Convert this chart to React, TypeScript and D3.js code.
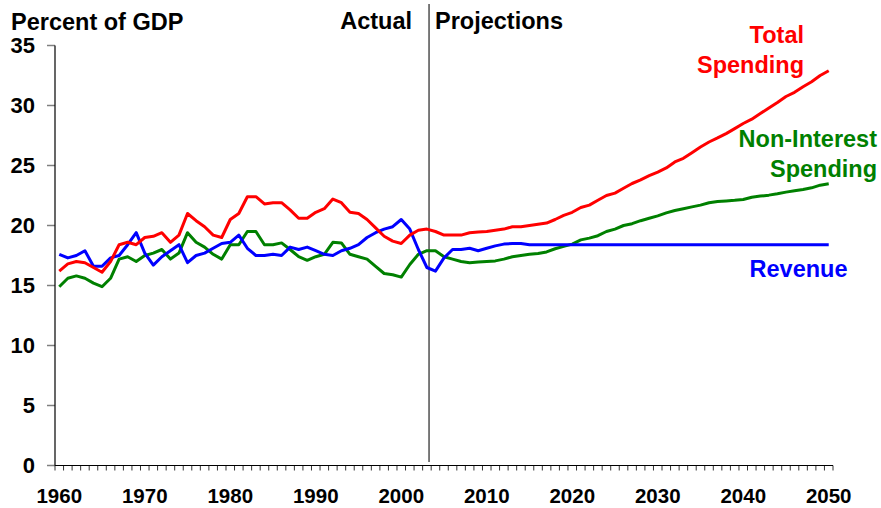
import React from "react";
import * as d3 from "d3";

const years: number[] = d3.range(1960, 2051);

const totalSpending: number[] = [
  16.2, 16.8, 17.0, 16.9, 16.5, 16.1, 17.0, 18.4, 18.6, 18.4,
  19.0, 19.1, 19.4, 18.6, 19.2, 21.0, 20.4, 19.9, 19.2, 19.0,
  20.5, 21.0, 22.4, 22.4, 21.8, 21.9, 21.9, 21.3, 20.6, 20.6,
  21.1, 21.4, 22.2, 21.9, 21.1, 21.0, 20.5, 19.8, 19.1, 18.7,
  18.5, 19.2, 19.6, 19.7, 19.5, 19.2, 19.2, 19.2, 19.4, 19.45,
  19.5, 19.6, 19.7, 19.9, 19.9, 20.0, 20.1, 20.2, 20.5, 20.85,
  21.1, 21.5, 21.7, 22.1, 22.5, 22.7, 23.1, 23.5, 23.8, 24.15,
  24.45, 24.8, 25.3, 25.6, 26.07, 26.54, 26.96, 27.3, 27.66, 28.07,
  28.5, 28.86, 29.33, 29.8, 30.25, 30.75, 31.1, 31.56, 31.98, 32.5,
  32.9,
];

const nonInterestSpending: number[] = [
  14.9, 15.6, 15.8, 15.6, 15.2, 14.9, 15.6, 17.2, 17.4, 17.0,
  17.5, 17.7, 18.0, 17.2, 17.7, 19.4, 18.6, 18.2, 17.6, 17.2,
  18.4, 18.4, 19.5, 19.5, 18.4, 18.4, 18.55, 18.0, 17.4, 17.1,
  17.4, 17.6, 18.6, 18.55, 17.6, 17.4, 17.2, 16.6, 16.0, 15.9,
  15.7, 16.75, 17.6, 17.9, 17.9, 17.4, 17.2, 17.0, 16.9, 16.95,
  17.0, 17.05, 17.2, 17.4, 17.5, 17.6, 17.67, 17.8, 18.06, 18.26,
  18.45, 18.8, 18.95, 19.15, 19.5, 19.7, 20.0, 20.15, 20.4, 20.6,
  20.8, 21.05, 21.25, 21.4, 21.55, 21.7, 21.9, 22.0, 22.05, 22.1,
  22.17, 22.36, 22.45, 22.53, 22.64, 22.78, 22.89, 23.0, 23.14, 23.36,
  23.48,
];

const revenue: number[] = [
  17.6, 17.3, 17.5, 17.9, 16.6, 16.6, 17.3, 17.5, 18.4, 19.4,
  17.7, 16.7, 17.4, 17.9, 18.4, 16.9, 17.5, 17.7, 18.1, 18.5,
  18.6, 19.2, 18.1, 17.5, 17.5, 17.6, 17.5, 18.2, 18.0, 18.2,
  17.9, 17.6, 17.5, 17.9, 18.1, 18.4, 19.0, 19.4, 19.7, 19.9,
  20.5, 19.7, 18.0, 16.5, 16.2, 17.3, 18.0, 18.0, 18.1, 17.9,
  18.1, 18.3, 18.45, 18.5, 18.5, 18.4, 18.4, 18.4, 18.4, 18.4,
  18.4, 18.4, 18.4, 18.4, 18.4, 18.4, 18.4, 18.4, 18.4, 18.4,
  18.4, 18.4, 18.4, 18.4, 18.4, 18.4, 18.4, 18.4, 18.4, 18.4,
  18.4, 18.4, 18.4, 18.4, 18.4, 18.4, 18.4, 18.4, 18.4, 18.4,
  18.4,
];

const yTicks: number[] = [0, 5, 10, 15, 20, 25, 30, 35];
const xLabels: number[] = [1960, 1970, 1980, 1990, 2000, 2010, 2020, 2030, 2040, 2050];
const dividerYear = 2003.25;

const FONT = "'Liberation Sans', Arial, Helvetica, sans-serif";

export default function App() {
  const x = d3.scaleLinear().domain([1959.5, 2050.5]).range([55, 833]);
  const y = d3.scaleLinear().domain([0, 35]).range([465.5, 45.5]);

  const line = d3
    .line<number>()
    .x((_, i) => x(years[i]))
    .y((d) => y(d));

  const series = [
    { values: nonInterestSpending, color: "#008000" },
    { values: revenue, color: "#0000FF" },
    { values: totalSpending, color: "#FF0000" },
  ];

  const boundaries = d3.range(1959.5, 2051.5, 1);

  return (
    <div style={{ position: "absolute", left: 0, top: 0 }}>
      <svg width={881} height={508} style={{ display: "block", background: "#fff" }} fontFamily={FONT}>
        {/* y ticks */}
        {yTicks.map((t) => (
          <g key={t}>
            <line x1={47} x2={55} y1={y(t)} y2={y(t)} stroke="#808080" strokeWidth={1.5} />
            <text x={35} y={y(t)} dy="0.36em" textAnchor="end" fontSize={22} fontWeight="bold" fill="#000">
              {t}
            </text>
          </g>
        ))}
        {/* y axis */}
        <line x1={55} x2={55} y1={y(35)} y2={y(0)} stroke="#000" strokeWidth={1.2} />
        {/* x axis */}
        <line x1={55} x2={833} y1={y(0)} y2={y(0)} stroke="#000" strokeWidth={1.2} />
        {boundaries.map((b) => (
          <line key={b} x1={x(b)} x2={x(b)} y1={y(0)} y2={y(0) + 5} stroke="#000" strokeWidth={0.8} />
        ))}
        {xLabels.map((yr) => (
          <text key={yr} x={x(yr)} y={503} textAnchor="middle" fontSize={20.5} fontWeight="bold" fill="#000">
            {yr}
          </text>
        ))}
        {/* divider */}
        <line x1={x(dividerYear)} x2={x(dividerYear)} y1={4} y2={462} stroke="#333" strokeWidth={1.3} />
        {/* lines */}
        {series.map((s, i) => (
          <path key={i} d={line(s.values) || ""} fill="none" stroke={s.color} strokeWidth={3} strokeLinejoin="round" />
        ))}
        {/* titles */}
        <text x={11} y={30} fontSize={23.5} fontWeight="bold" fill="#000">Percent of GDP</text>
        <text x={412} y={29} textAnchor="end" fontSize={23.5} fontWeight="bold" fill="#000">Actual</text>
        <text x={435} y={29} fontSize={23.5} fontWeight="bold" fill="#000">Projections</text>
        {/* series labels */}
        <text x={804} y={43} textAnchor="end" fontSize={23.5} fontWeight="bold" fill="#FF0000">Total</text>
        <text x={804} y={73} textAnchor="end" fontSize={23.5} fontWeight="bold" fill="#FF0000">Spending</text>
        <text x={877} y={147} textAnchor="end" fontSize={23.5} fontWeight="bold" fill="#008000">Non-Interest</text>
        <text x={877} y={177} textAnchor="end" fontSize={23.5} fontWeight="bold" fill="#008000">Spending</text>
        <text x={798.5} y={277} textAnchor="middle" fontSize={23.5} fontWeight="bold" fill="#0000FF">Revenue</text>
      </svg>
    </div>
  );
}
